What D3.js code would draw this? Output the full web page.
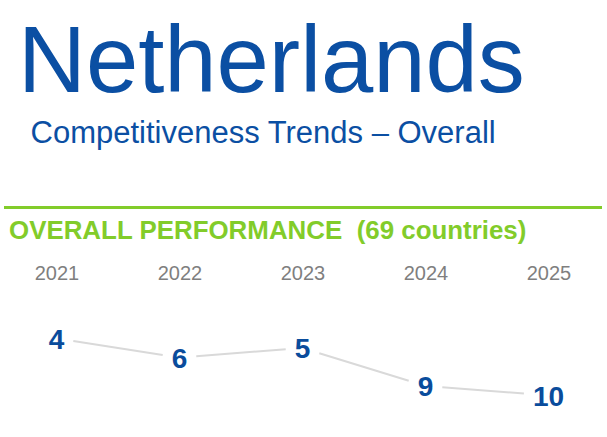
<!DOCTYPE html>
<html>
<head>
<meta charset="utf-8">
<script src="https://cdn.jsdelivr.net/npm/d3@7"></script>
<style>
  html, body { margin: 0; padding: 0; background: #ffffff; }
  svg { display: block; font-family: "Liberation Sans", Arial, sans-serif; }
</style>
</head>
<body>
<svg id="chart" width="607" height="437"></svg>
<script>
const years = ["2021", "2022", "2023", "2024", "2025"];
const ranks = [4, 6, 5, 9, 10];
const titleText = "Netherlands";
const subtitleText = "Competitiveness Trends \u2013 Overall";
const sectionText = "OVERALL PERFORMANCE  (69 countries)";

const svg = d3.select("#chart");

svg.append("text")
  .attr("x", 18).attr("y", 92)
  .attr("font-size", 94)
  .attr("fill", "#0b4fa3")
  .text(titleText);

svg.append("text")
  .attr("x", 30.5).attr("y", 143)
  .attr("font-size", 31)
  .attr("fill", "#0b4fa3")
  .text(subtitleText);

svg.append("line")
  .attr("x1", 4).attr("x2", 602)
  .attr("y1", 207.5).attr("y2", 207.5)
  .attr("stroke", "#82cc2a")
  .attr("stroke-width", 3);

svg.append("text")
  .attr("x", 9).attr("y", 238.5)
  .attr("font-size", 25.9)
  .attr("font-weight", "bold")
  .attr("fill", "#82cc2a")
  .style("white-space", "pre")
  .text(sectionText);

const x = d3.scalePoint().domain(years).range([56.5, 548.5]).padding(0);
const y = d3.scaleLinear().domain([4, 10]).range([338.5, 395.5]);

// year axis (labels only)
const axis = d3.axisTop(x).tickSize(0).tickPadding(0);
const axisG = svg.append("g").attr("transform", "translate(0,280)").call(axis);
axisG.select(".domain").remove();
axisG.selectAll("text")
  .attr("font-size", 20)
  .attr("font-family", "\"Liberation Sans\", Arial, sans-serif")
  .attr("fill", "#7f7f7f")
  .attr("dy", 0);

const data = years.map((yr, i) => ({ year: yr, rank: ranks[i] }));

// labels first (to measure widths)
const labelG = svg.append("g");
const labels = labelG.selectAll("text").data(data).join("text")
  .attr("x", d => x(d.year))
  .attr("y", d => y(d.rank) + 10)
  .attr("text-anchor", "middle")
  .attr("font-size", 28)
  .attr("font-weight", "bold")
  .attr("fill", "#0a4c9c")
  .text(d => d.rank);

const halfW = [];
labels.each(function () { halfW.push(this.getComputedTextLength() / 2); });

const segs = [];
for (let i = 0; i < data.length - 1; i++) {
  const x0 = x(data[i].year), y0 = y(data[i].rank);
  const x1 = x(data[i + 1].year), y1 = y(data[i + 1].rank);
  const g0 = halfW[i] + 9, g1 = halfW[i + 1] + 9;
  const s = (y1 - y0) / (x1 - x0);
  segs.push({ x1: x0 + g0, y1: y0 + s * g0, x2: x1 - g1, y2: y1 - s * g1 });
}

svg.insert("g", () => labelG.node()).selectAll("line").data(segs).join("line")
  .attr("x1", d => d.x1).attr("y1", d => d.y1)
  .attr("x2", d => d.x2).attr("y2", d => d.y2)
  .attr("stroke", "#d9d9d9")
  .attr("stroke-width", 2);
</script>
</body>
</html>
